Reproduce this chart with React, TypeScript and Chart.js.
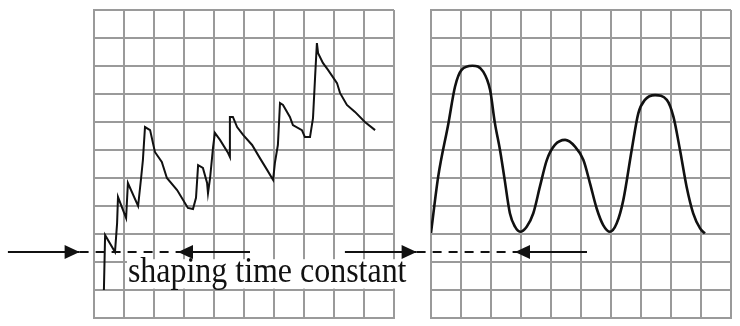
import React, { useEffect, useRef } from 'react';
import { Chart, registerables } from 'chart.js';

Chart.register(...registerables);

// ---- data (grid units: x 0..10 columns, y 0..11 rows) ----
const leftX = [0.33, 0.37, 0.7, 0.77, 0.8, 1.07, 1.13, 1.47, 1.57, 1.63, 1.7, 1.87, 2.03, 2.26, 2.43, 2.77, 3.13, 3.3, 3.4, 3.47, 3.63, 3.77, 3.8, 3.87, 3.97, 4.03, 4.2, 4.47, 4.53, 4.53, 4.63, 4.77, 4.97, 5.27, 5.53, 5.77, 5.97, 6.03, 6.13, 6.2, 6.3, 6.53, 6.63, 6.93, 7.03, 7.2, 7.3, 7.37, 7.43, 7.47, 7.63, 7.8, 8.1, 8.2, 8.43, 8.7, 9.03, 9.37];
const leftY = [1.0, 2.96, 2.36, 3.39, 4.32, 3.57, 4.82, 4.0, 5.0, 5.64, 6.82, 6.71, 5.93, 5.57, 5.0, 4.57, 3.93, 3.89, 4.29, 5.46, 5.36, 4.82, 4.46, 5.0, 6.11, 6.61, 6.36, 5.89, 5.75, 7.18, 7.18, 6.82, 6.54, 6.18, 5.71, 5.29, 4.93, 5.54, 6.18, 7.68, 7.61, 7.18, 6.89, 6.71, 6.46, 6.46, 7.14, 8.61, 9.82, 9.46, 9.11, 8.86, 8.39, 8.04, 7.61, 7.36, 7.0, 6.71];

const rightX = [0, 0.24, 0.58, 0.8, 1.02, 1.38, 1.74, 1.97, 2.13, 2.3, 2.44, 2.63, 2.8, 2.97, 3.19, 3.41, 3.63, 3.86, 4.13, 4.47, 4.8, 5.08, 5.3, 5.52, 5.74, 5.97, 6.19, 6.41, 6.69, 6.91, 7.13, 7.47, 7.86, 8.08, 8.3, 8.52, 8.74, 8.97, 9.13];
const rightY = [3.04, 5.05, 6.95, 8.26, 8.86, 9.01, 8.8, 8.14, 6.96, 6.0, 5.05, 3.74, 3.26, 3.08, 3.26, 3.74, 4.69, 5.64, 6.18, 6.36, 6.12, 5.64, 4.81, 3.92, 3.32, 3.08, 3.38, 4.21, 6.0, 7.31, 7.79, 7.96, 7.79, 7.19, 6.0, 4.69, 3.74, 3.2, 3.02];

const gridCols = 10;
const gridRows = 11;

// arrow annotation (grid units, relative to each panel)
const arrowLevel = 2.36;
const arrowInX = [-2.87, -0.48];   // solid, pointing right
const dashX = [-0.48, 2.8];        // dashed span
const arrowBackX = [2.8, 5.2];     // solid, arrow pointing left at first value

const labelText = 'shaping time constant';
const labelPos = [1.13, 1.29];     // left-panel units (start x, baseline y)
const labelBox = [1.1, 10.45, 2.1, 1.05]; // x0, x1, yTop, yBottom

const INK = '#111';
const GRID = '#9a9a9a';

function pts(xs: number[], ys: number[]) {
  return xs.map((x, i) => ({ x, y: ys[i] }));
}
function hline(xs: number[]) {
  return xs.map((x) => ({ x, y: arrowLevel }));
}

const arrowPlugin = {
  id: 'arrowHeads',
  afterDatasetsDraw(chart: any, _a: any, opts: any) {
    const { ctx, scales } = chart;
    const sx = scales.x, sy = scales.y;
    const heads = [
      { x: arrowInX[1], dir: 1 },
      { x: arrowBackX[0], dir: -1 },
    ];
    ctx.save();
    ctx.fillStyle = INK;
    for (const h of heads) {
      const px = sx.getPixelForValue(h.x);
      const py = sy.getPixelForValue(arrowLevel);
      const L = 15, W = 7;
      ctx.beginPath();
      ctx.moveTo(px, py);
      ctx.lineTo(px - h.dir * L, py - W);
      ctx.lineTo(px - h.dir * L, py + W);
      ctx.closePath();
      ctx.fill();
    }
    if (opts && opts.label) {
      const x0 = sx.getPixelForValue(labelBox[0]);
      const x1 = sx.getPixelForValue(labelBox[1]);
      const y0 = sy.getPixelForValue(labelBox[2]);
      const y1 = sy.getPixelForValue(labelBox[3]);
      ctx.fillStyle = '#fff';
      ctx.fillRect(x0, y0, x1 - x0, y1 - y0);
      ctx.fillStyle = INK;
      ctx.font = '35px "Liberation Serif", "Times New Roman", serif';
      ctx.textBaseline = 'alphabetic';
      ctx.textAlign = 'left';
      const tx = sx.getPixelForValue(labelPos[0]);
      const ty = sy.getPixelForValue(labelPos[1]);
      ctx.fillText(labelText, tx, ty, x1 - tx - 1);
    }
    ctx.restore();
  },
};

function makeConfig(trace: { x: number; y: number }[], smooth: boolean, pad: any, withLabel: boolean): any {
  return {
    type: 'line',
    data: {
      datasets: [
        {
          data: trace,
          borderColor: INK,
          borderWidth: smooth ? 2.6 : 2,
          pointRadius: 0,
          tension: smooth ? 0.4 : 0,
          cubicInterpolationMode: smooth ? 'monotone' : 'default',
          fill: false,
        },
        { data: hline(arrowInX), borderColor: INK, borderWidth: 2, pointRadius: 0, clip: false },
        { data: hline(dashX), borderColor: INK, borderWidth: 2, borderDash: [9, 7], pointRadius: 0, clip: false },
        { data: hline(arrowBackX), borderColor: INK, borderWidth: 2, pointRadius: 0, clip: false },
      ],
    },
    options: {
      animation: false,
      responsive: false,
      devicePixelRatio: 1,
      layout: { padding: pad },
      plugins: {
        legend: { display: false },
        tooltip: { enabled: false },
        arrowHeads: { label: withLabel },
      },
      events: [],
      scales: {
        x: {
          type: 'linear',
          min: 0,
          max: gridCols,
          ticks: { display: false, stepSize: 1 },
          grid: { color: GRID, lineWidth: 2, drawTicks: false, tickLength: 0 },
          border: { display: true, color: GRID, width: 2 },
        },
        y: {
          type: 'linear',
          min: 0,
          max: gridRows,
          ticks: { display: false, stepSize: 1 },
          grid: { color: GRID, lineWidth: 2, drawTicks: false, tickLength: 0 },
          border: { display: true, color: GRID, width: 2 },
        },
      },
    },
    plugins: [arrowPlugin],
  };
}

export default function App() {
  const leftRef = useRef<HTMLCanvasElement>(null);
  const rightRef = useRef<HTMLCanvasElement>(null);

  useEffect(() => {
    const c1 = new Chart(leftRef.current as HTMLCanvasElement,
      makeConfig(pts(leftX, leftY), false, { left: 94, right: 346, top: 10, bottom: 8 }, true));
    const c2 = new Chart(rightRef.current as HTMLCanvasElement,
      makeConfig(pts(rightX, rightY), true, { left: 431, right: 9, top: 10, bottom: 8 }, false));
    return () => {
      c1.destroy();
      c2.destroy();
    };
  }, []);

  const style: React.CSSProperties = { position: 'absolute', left: 0, top: 0 };
  return (
    <div style={{ position: 'absolute', left: 0, top: 0, width: 740, height: 326, background: '#fff' }}>
      <canvas ref={leftRef} width={740} height={326} style={style} />
      <canvas ref={rightRef} width={740} height={326} style={style} />
    </div>
  );
}
